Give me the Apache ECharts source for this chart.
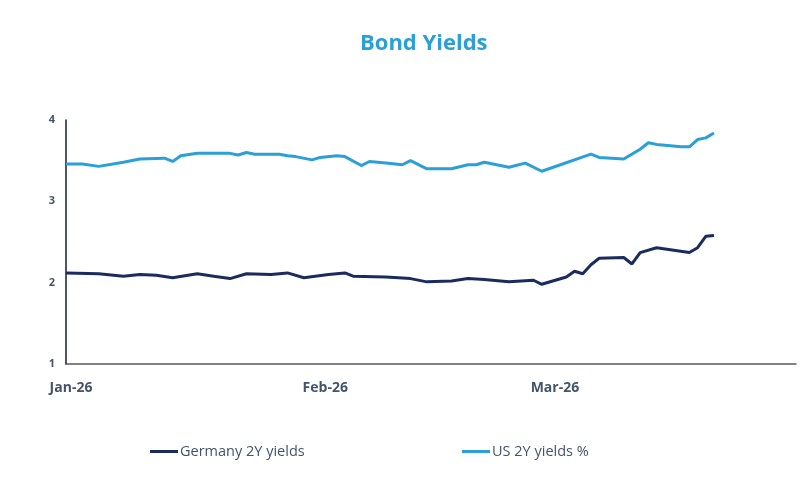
<!DOCTYPE html>
<html>
<head>
<meta charset="utf-8">
<script src="https://cdn.jsdelivr.net/npm/echarts@6/dist/echarts.min.js"></script>
<style>
html,body{margin:0;padding:0;background:#fff;}
#chart{width:800px;height:500px;}
</style>
</head>
<body>
<div id="chart"></div>
<script>
// ---- data ----
const deDates = ['2026-01-01','2026-01-05','2026-01-08','2026-01-10','2026-01-12','2026-01-14','2026-01-17','2026-01-19','2026-01-21','2026-01-23','2026-01-26','2026-01-28','2026-01-30','2026-02-02','2026-02-04','2026-02-05','2026-02-09','2026-02-12','2026-02-14','2026-02-17','2026-02-19','2026-02-21','2026-02-24','2026-02-27','2026-02-28','2026-03-03','2026-03-04','2026-03-05','2026-03-06','2026-03-07','2026-03-10','2026-03-11','2026-03-12','2026-03-14','2026-03-18','2026-03-19','2026-03-20','2026-03-21'];
const deValues = [2.12,2.11,2.08,2.10,2.09,2.06,2.11,2.08,2.05,2.11,2.10,2.12,2.06,2.10,2.12,2.08,2.07,2.05,2.01,2.02,2.05,2.04,2.01,2.03,1.98,2.07,2.14,2.11,2.22,2.30,2.31,2.23,2.37,2.43,2.37,2.43,2.57,2.58];

const usDates = ['2026-01-01','2026-01-03','2026-01-05','2026-01-08','2026-01-10','2026-01-13','2026-01-14','2026-01-15','2026-01-17','2026-01-21','2026-01-22','2026-01-23','2026-01-24','2026-01-27','2026-01-28','2026-01-29','2026-01-31','2026-02-01','2026-02-03','2026-02-04','2026-02-06','2026-02-07','2026-02-09','2026-02-11','2026-02-12','2026-02-14','2026-02-17','2026-02-19','2026-02-20','2026-02-21','2026-02-24','2026-02-26','2026-02-28','2026-03-06','2026-03-07','2026-03-10','2026-03-12','2026-03-13','2026-03-14','2026-03-17','2026-03-18','2026-03-19','2026-03-20','2026-03-21'];
const usValues = [3.46,3.46,3.43,3.48,3.52,3.53,3.49,3.56,3.59,3.59,3.57,3.60,3.58,3.58,3.56,3.55,3.51,3.54,3.56,3.55,3.44,3.49,3.47,3.45,3.50,3.40,3.40,3.45,3.45,3.48,3.42,3.47,3.37,3.58,3.54,3.52,3.64,3.72,3.70,3.67,3.67,3.76,3.78,3.84];

const xTickDates = ['2026-01-01','2026-02-01','2026-03-01'];
const xTickLabels = ['Jan-26','Feb-26','Mar-26'];
const xAxisStart = '2026-01-01';
const xAxisEnd = '2026-03-31';
const yTicks = [1,2,3,4];
const seriesNames = ['Germany 2Y yields','US 2Y yields %'];

// ---- helpers: dates -> day number since axis start ----
function ts(s){ const p = s.split('-').map(Number); return Date.UTC(p[0], p[1]-1, p[2]); }
const t0 = ts(xAxisStart);
function day(s){ return Math.round((ts(s) - t0) / 86400000); }
const tickDays = xTickDates.map(day);

const chart = echarts.init(document.getElementById('chart'), null, {renderer:'canvas'});
const labelColor = '#44546a';
const font = "'Open Sans', 'Noto Sans', sans-serif";

chart.setOption({
  animation: false,
  backgroundColor: '#ffffff',
  title: {
    text: 'Bond Yields',
    left: 355,
    top: 28,
    textStyle: {color: '#2a9fd8', fontSize: 22, fontWeight: 'bold', fontFamily: font}
  },
  legend: [
    {
      data: [seriesNames[0]], left: 145, top: 439, icon: 'rect', itemWidth: 28, itemHeight: 3,
      textStyle: {color: labelColor, fontSize: 14.5, fontFamily: font, padding: [0,0,0,-3]}
    },
    {
      data: [seriesNames[1]], left: 457, top: 439, icon: 'rect', itemWidth: 28, itemHeight: 3,
      textStyle: {color: labelColor, fontSize: 14.5, fontFamily: font, padding: [0,0,0,-3]}
    }
  ],
  grid: {left: 66, right: 4, top: 120, bottom: 136, containLabel: false},
  xAxis: {
    type: 'value',
    min: day(xAxisStart),
    max: day(xAxisEnd),
    axisLine: {show: true, lineStyle: {color: '#595959', width: 1.5}},
    axisTick: {show: false},
    splitLine: {show: false},
    axisLabel: {
      customValues: tickDays,
      margin: 17,
      padding: [0,0,0,10],
      color: labelColor,
      fontSize: 14,
      fontWeight: 'bold',
      fontFamily: font,
      formatter: function(v){
        const i = tickDays.indexOf(Math.round(v));
        return i >= 0 ? xTickLabels[i] : '';
      }
    }
  },
  yAxis: {
    type: 'value',
    min: yTicks[0],
    max: yTicks[yTicks.length-1],
    interval: 1,
    axisLine: {show: true, lineStyle: {color: '#141b3d', width: 1.5}},
    axisTick: {show: false},
    splitLine: {show: false},
    axisLabel: {margin: 11, color: labelColor, fontSize: 11, fontWeight: 'bold', fontFamily: font}
  },
  series: [
    {
      name: seriesNames[0], type: 'line', showSymbol: false, symbol: 'none',
      lineStyle: {color: '#1c2b5e', width: 3}, itemStyle: {color: '#1c2b5e'},
      data: deDates.map((d,i) => [day(d), deValues[i]])
    },
    {
      name: seriesNames[1], type: 'line', showSymbol: false, symbol: 'none',
      lineStyle: {color: '#2a9fd8', width: 3}, itemStyle: {color: '#2a9fd8'},
      data: usDates.map((d,i) => [day(d), usValues[i]])
    }
  ]
});
</script>
</body>
</html>
